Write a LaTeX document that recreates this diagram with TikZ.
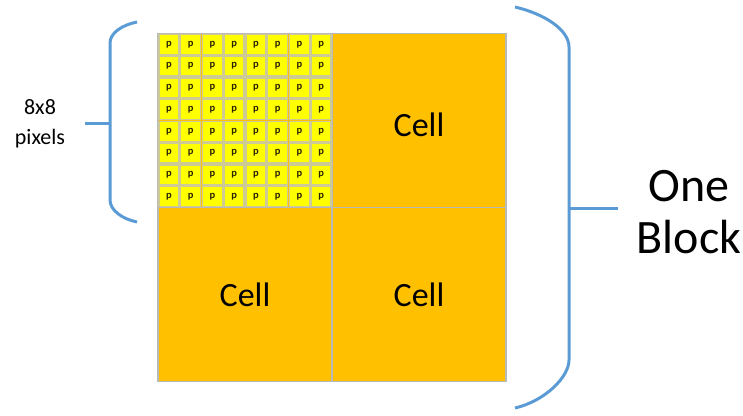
\documentclass[tikz,border=0pt]{standalone}
\usepackage{fontspec}
\setmainfont{Carlito}
\definecolor{cellorange}{RGB}{255,192,0}
\definecolor{pixyellow}{RGB}{255,255,0}
\definecolor{pixedge}{RGB}{206,202,150}
\definecolor{gridline}{RGB}{185,185,185}
\definecolor{bracecol}{RGB}{91,155,213}
\definecolor{pixtext}{RGB}{40,35,0}
\begin{document}
\begin{tikzpicture}[x=1pt,y=-1pt,
  cellbox/.style={draw=gridline, line width=1.2pt, fill=cellorange,
    minimum width=174pt, minimum height=174pt, inner sep=0pt,
    font=\fontsize{34}{40}\selectfont},
  pixbox/.style={draw=pixedge, line width=1.3pt, fill=pixyellow,
    minimum size=20pt, inner sep=0pt, text=pixtext,
    font=\fontsize{10.5}{11}\selectfont\bfseries},
  bracket/.style={draw=bracecol, line width=3pt},
  sidelabel/.style={align=center, inner sep=0pt}]
\useasboundingbox (0,0) rectangle (743,415);

% the block: four cells
\node[cellbox] (c11) at (245,120.5) {};
\node[cellbox] (c12) at (419,120.5) {};
\node[cellbox] (c21) at (245,294.5) {Cell};
\node[cellbox] (c22) at (419,294.5) {Cell};
\node[font=\fontsize{34}{40}\selectfont, inner sep=0pt] (t12) at (419,125) {Cell};

% 8x8 pixels of the top-left cell
\foreach \r in {0,...,7}
  \foreach \c in {0,...,7}
    \node[pixbox] (p\r\c) at ({158+21.75*(\c+0.5)},{33.5+21.75*(\r+0.5)}) {p};

% left brace over the pixel rows
\coordinate (lt) at (137,22);
\coordinate (lb) at (137,222);
\coordinate (lm) at (110,123);
\coordinate (lk) at (85,123);
\draw[bracket] (lt) .. controls (122,25) and (110,33) .. (110,43)
  -- (110,200) .. controls (110,210) and (122,219) .. (lb);
\draw[bracket] (lk) -- (lm);
\node[sidelabel, font=\fontsize{22}{30}\selectfont] (pixlabel) at (40,124) {8x8\\pixels};

% right brace over the whole block
\coordinate (rt) at (515,7);
\coordinate (rb) at (515,408);
\coordinate (rm) at (569,208);
\coordinate (rk) at (618,208);
\draw[bracket] (rt) .. controls (545,14) and (569,30) .. (569,47)
  -- (569,360) .. controls (569,377) and (545,401) .. (rb);
\draw[bracket] (rm) -- (rk);
\node[sidelabel, font=\fontsize{48}{52}\selectfont] (blocklabel) at (689,212) {One\\Block};
\end{tikzpicture}
\end{document}
